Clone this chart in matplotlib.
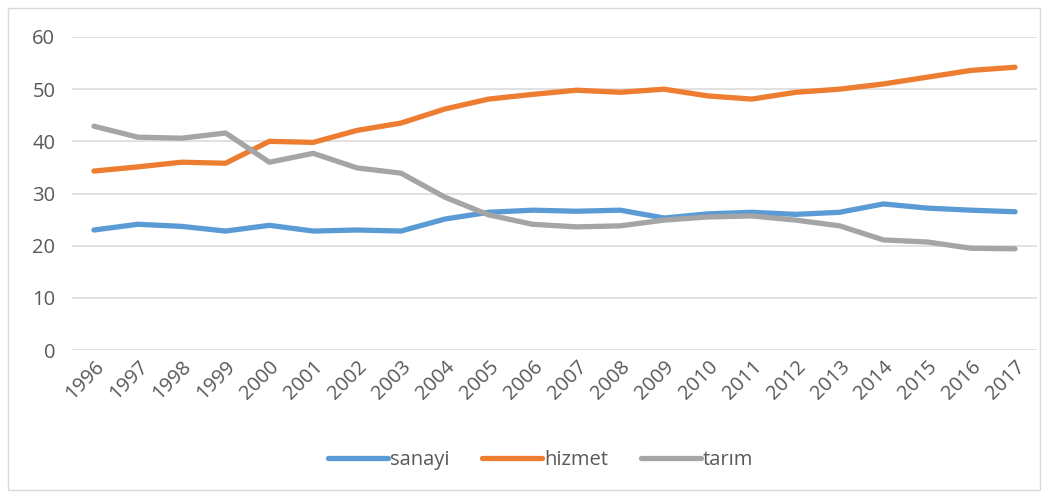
import numpy as np
import matplotlib.pyplot as plt
from matplotlib.patches import Rectangle

years = [str(y) for y in range(1996, 2018)]
sanayi = [23.0, 24.1, 23.7, 22.8, 23.9, 22.8, 23.0, 22.8, 25.1, 26.4, 26.8,
          26.6, 26.8, 25.3, 26.1, 26.4, 26.0, 26.4, 28.0, 27.2, 26.8, 26.5]
hizmet = [34.3, 35.1, 36.0, 35.8, 40.0, 39.8, 42.1, 43.5, 46.2, 48.1, 49.0,
          49.8, 49.4, 50.0, 48.7, 48.1, 49.4, 50.0, 51.0, 52.3, 53.6, 54.2]
tarim = [42.9, 40.8, 40.6, 41.6, 36.0, 37.7, 34.9, 33.9, 29.3, 25.9, 24.1,
         23.6, 23.8, 24.9, 25.5, 25.7, 24.9, 23.8, 21.1, 20.7, 19.5, 19.4]

plt.rcParams['font.family'] = ['Open Sans', 'DejaVu Sans']

fig = plt.figure(figsize=(10.64, 4.95), dpi=100)
ax = fig.add_axes([72 / 1064, 1 - 350 / 495, (1037 - 72) / 1064, (350 - 37) / 495])

x = np.arange(len(years))
for vals, col, lab in [(sanayi, '#5B9BD5', 'sanayi'),
                       (hizmet, '#ED7D31', 'hizmet'),
                       (tarim, '#A5A5A5', 'tarım')]:
    ax.plot(x, vals, color=col, lw=3.8, label=lab, solid_capstyle='round',
            solid_joinstyle='round')

ax.set_xlim(-0.5, len(years) - 0.5)
ax.set_ylim(0, 60)
ax.set_yticks(range(0, 61, 10))
ax.set_xticks(x)
ax.set_xticklabels(years, rotation=45, ha='right', rotation_mode='anchor')
ax.grid(axis='y', color='#DEDEDE', lw=1.3)
ax.set_axisbelow(True)
for s in ax.spines.values():
    s.set_visible(False)
ax.tick_params(length=0, labelsize=14.5, colors='#595959', pad=12)
ax.tick_params(axis='x', pad=5)

leg = fig.legend(loc='center', bbox_to_anchor=(0.508, 1 - 460 / 495), ncol=3,
                 frameon=False, fontsize=14.5, handlelength=3.0, handletextpad=0.1,
                 columnspacing=1.6)
for t in leg.get_texts():
    t.set_color('#595959')

fig.patches.append(Rectangle((8 / 1064, 1 - 490 / 495), 1032 / 1064, 482 / 495,
                             transform=fig.transFigure, fill=False,
                             edgecolor='#D9D9D9', lw=1))

fig.savefig('out.png', dpi=100)
